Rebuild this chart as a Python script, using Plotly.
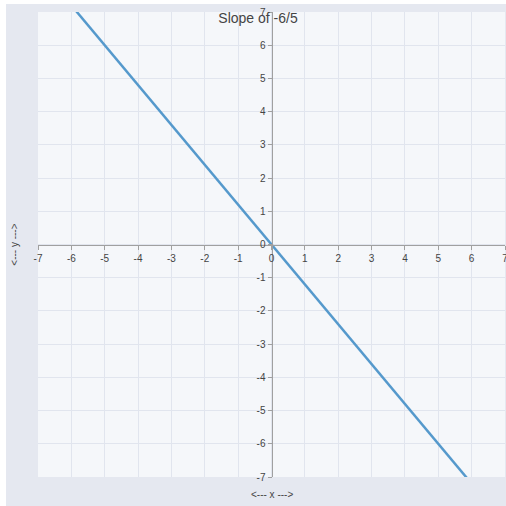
import plotly.graph_objects as go

x_vals = [-7, 7]
y_vals = [8.4, -8.4]
tick_vals = list(range(-7, 8))
tick_text = [str(v) for v in tick_vals]

fig = go.Figure()
fig.add_trace(go.Scatter(x=x_vals, y=y_vals, mode="lines",
                         line=dict(color="#5599cc", width=2.5), showlegend=False))

axis_common = dict(range=[-7, 7], tickvals=tick_vals, ticktext=tick_text,
                   showgrid=True, gridcolor="#e1e5ee", gridwidth=1,
                   zeroline=False, showline=True, linecolor="#a0a0a0", linewidth=1,
                   ticks="outside", ticklen=4, tickcolor="#a0a0a0",
                   tickfont=dict(size=10, color="#444444"),
                   ticklabeloverflow="allow",
                   anchor="free", position=0.5)

fig.update_layout(
    width=504, height=502,
    margin=dict(l=32, r=2, t=4, b=29),
    paper_bgcolor="#e5e8f0",
    plot_bgcolor="#f5f7fa",
    title=dict(text="Slope of -6/5", x=0.5, xanchor="center", y=0.972, yanchor="middle",
               font=dict(size=14, color="#444444", family="Arial")),
    font=dict(family="Arial", color="#444444"),
    xaxis=dict(**axis_common),
    yaxis=dict(**axis_common),
    annotations=[
        dict(text="<--- x --->", xref="paper", yref="paper", x=0.5, y=-0.038,
             yanchor="middle", showarrow=False, font=dict(size=10, color="#444444")),
        dict(text="<--- y --->", xref="paper", yref="paper", x=-0.051, y=0.5,
             xanchor="center", yanchor="middle", textangle=-90, showarrow=False,
             font=dict(size=10, color="#444444")),
    ],
)

fig.write_html(
    "out.html",
    post_script=(
        "document.documentElement.style.overflow='hidden';"
        "document.body.style.margin='4px 0 0 6px';"
        "document.body.style.overflow='hidden';"
    ),
)
